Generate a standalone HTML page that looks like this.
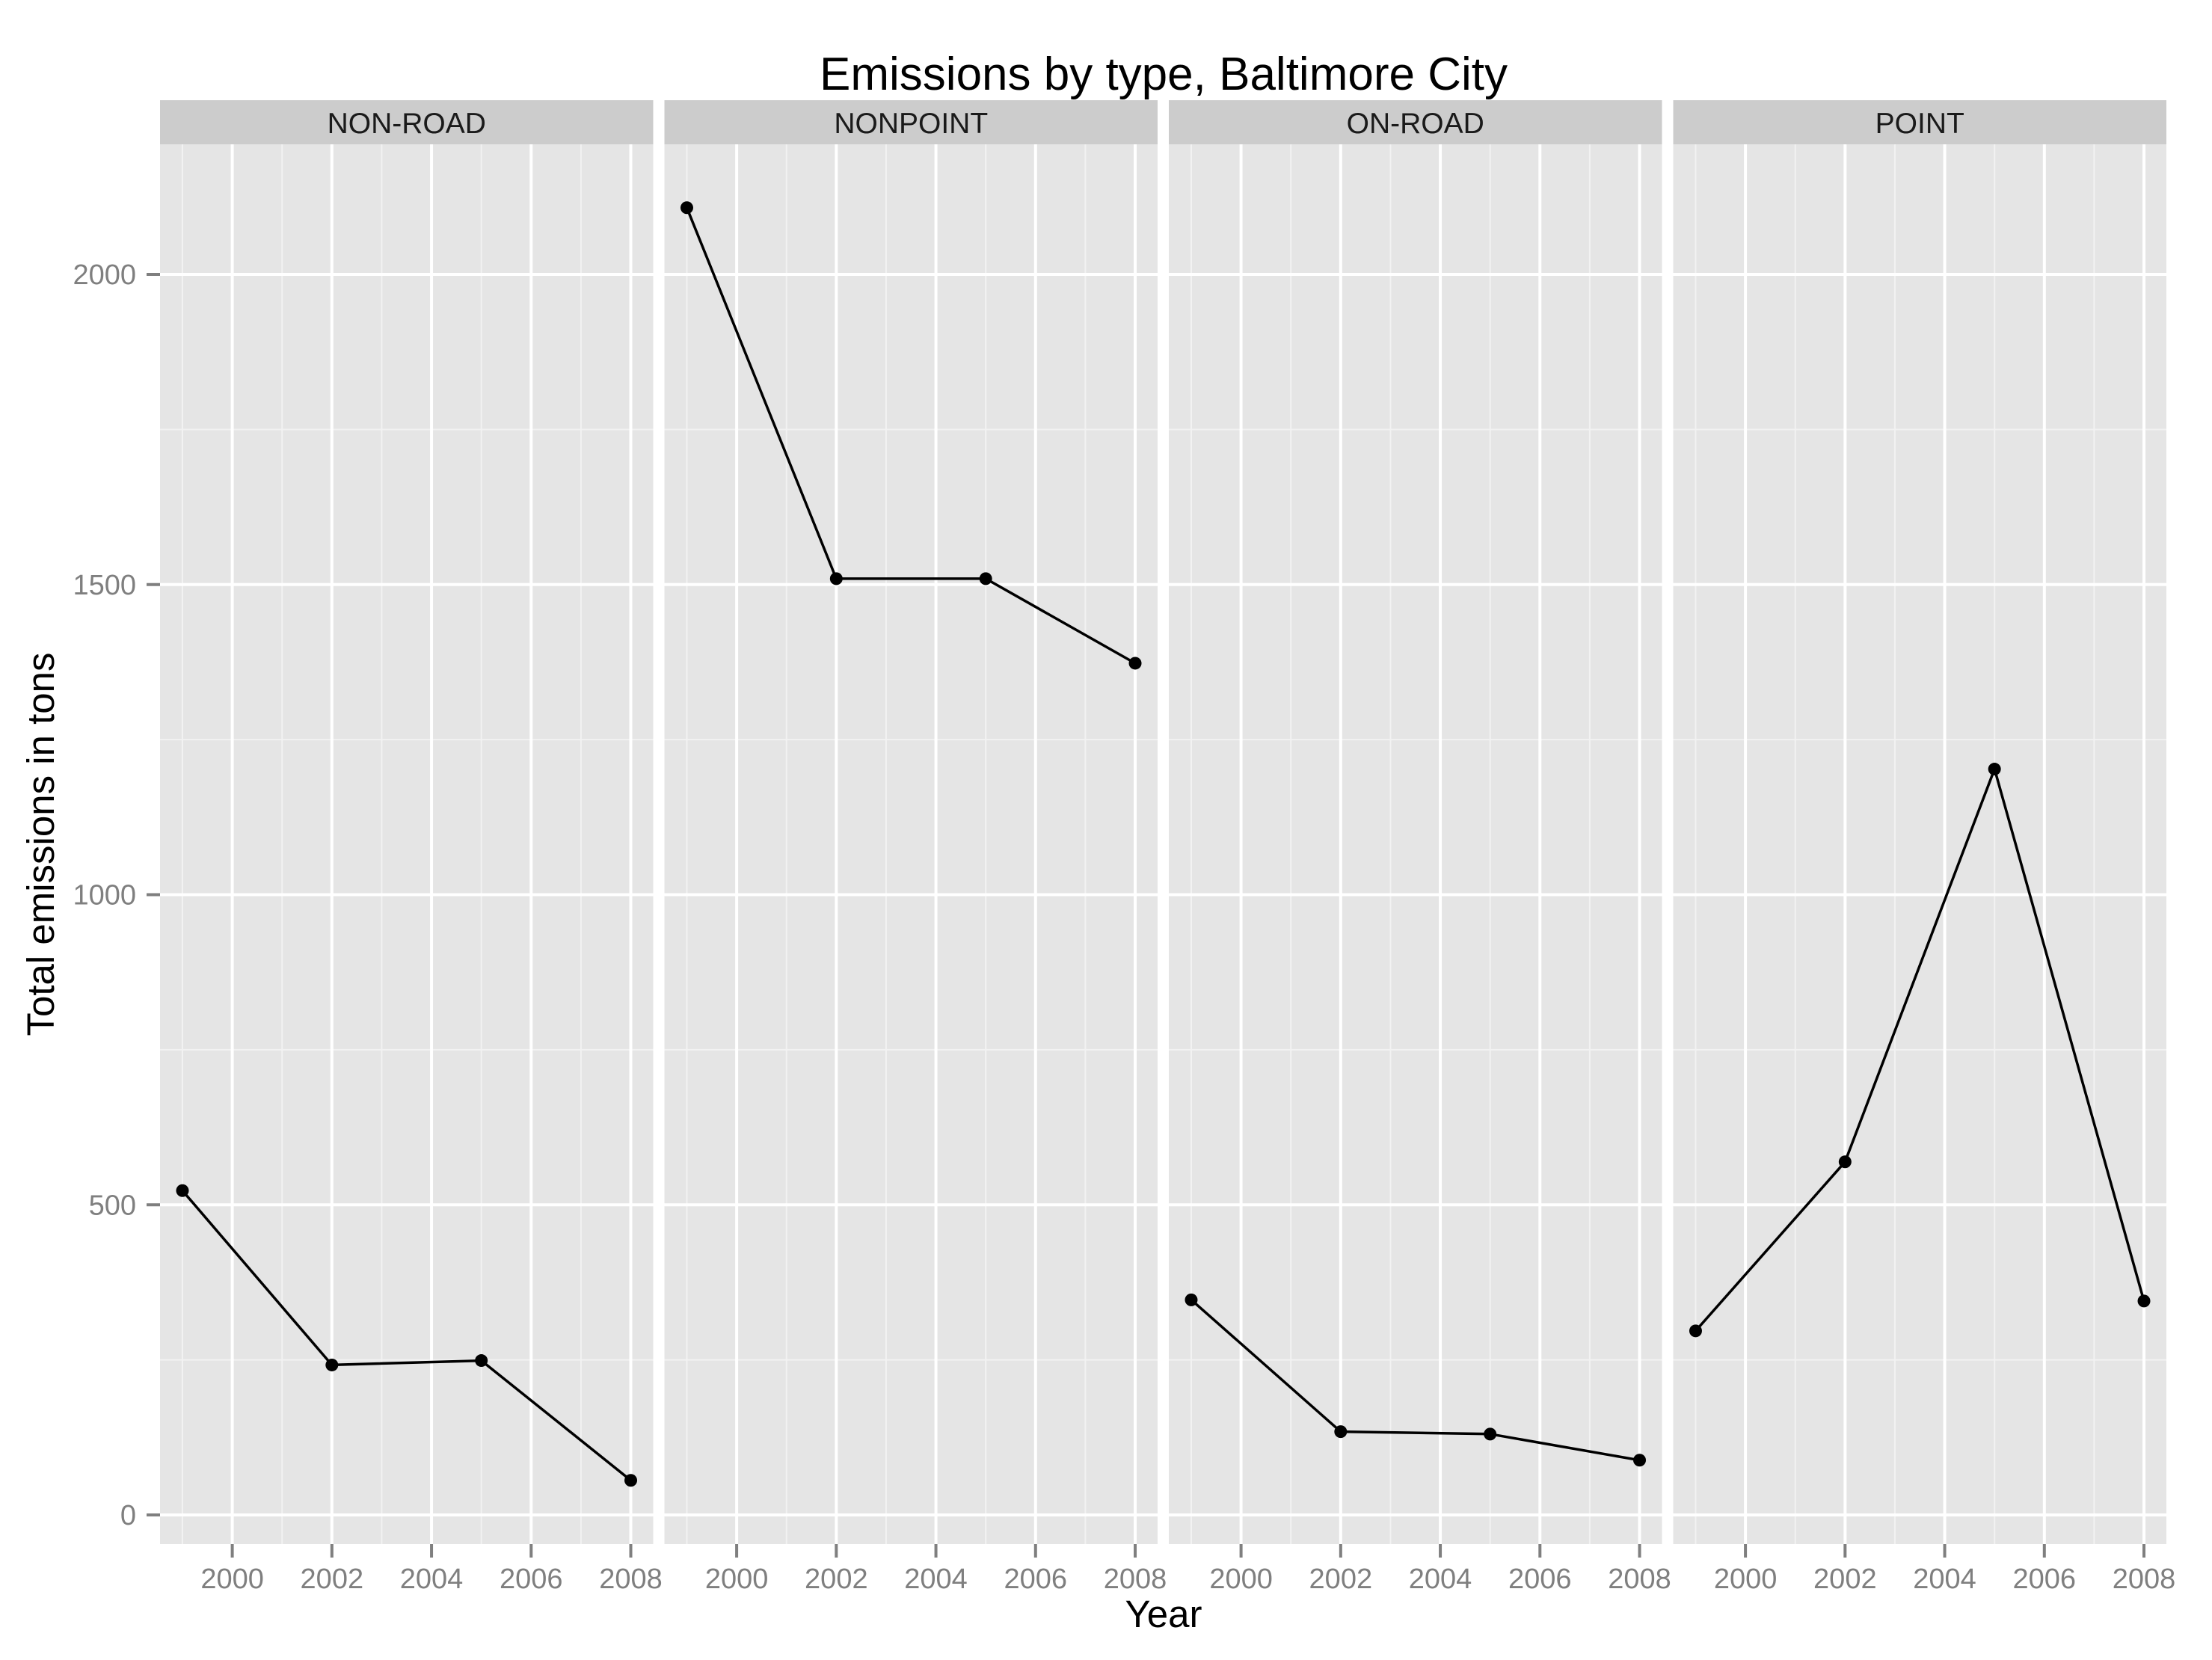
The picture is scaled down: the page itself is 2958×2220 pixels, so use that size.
<!DOCTYPE html>
<html><head><meta charset="utf-8"><style>
html,body{margin:0;padding:0;background:#fff;}
svg{display:block;font-family:"Liberation Sans",Arial,sans-serif;}
</style></head><body>
<svg id="chart" width="2958" height="2220" viewBox="0 0 2958 2220" xmlns="http://www.w3.org/2000/svg">
<text x="1556" y="120" text-anchor="middle" font-size="62" fill="#000">Emissions by type, Baltimore City</text>
<text x="1556" y="2176" text-anchor="middle" font-size="51" fill="#000">Year</text>
<text transform="translate(72,1129) rotate(-90)" text-anchor="middle" font-size="51" fill="#000">Total emissions in tons</text>
<g id="plot"></g>
</svg>
<script>
const panels = ["NON-ROAD","NONPOINT","ON-ROAD","POINT"];
const years = [1999, 2002, 2005, 2008];
const nonRoad = [522.9, 241.8, 248.9, 55.8];
const nonPoint = [2107.6, 1509.5, 1509.5, 1373.2];
const onRoad = [346.8, 134.3, 130.4, 88.3];
const pointSrc = [296.8, 569.3, 1202.5, 345.0];
const xTicks = [2000, 2002, 2004, 2006, 2008];
const yTicks = [0, 500, 1000, 1500, 2000];

const series = [nonRoad, nonPoint, onRoad, pointSrc];
const NS = "http://www.w3.org/2000/svg";
const plotG = document.getElementById("plot");
const panelLeft0 = 214, panelW = 659.5, panelGap = 15, pTop = 193, pBottom = 2065;
const stripTop = 134;
const xMin = 1998.55, xMax = 2008.45;
const yMin = -47.0, yMax = 2209.8;
function X(i, v){ return panelLeft0 + i*(panelW+panelGap) + (v - xMin)/(xMax - xMin)*panelW; }
function Y(v){ return pBottom - (v - yMin)/(yMax - yMin)*(pBottom - pTop); }
function mk(tag, attrs, parent){ const e = document.createElementNS(NS, tag); for (const k in attrs) e.setAttribute(k, attrs[k]); (parent||plotG).appendChild(e); return e; }

yTicks.forEach(t => {
  const tx = mk("text", {x: 182, y: Y(t)+13, "text-anchor":"end", "font-size":38, fill:"#7f7f7f"});
  
  
  tx.textContent = t;
  const tk = mk("line", {x1:196, x2:214, y1:Y(t), y2:Y(t), stroke:"#7f7f7f", "stroke-width":4});
  
  
});

panels.forEach((name, i) => {
  const L = panelLeft0 + i*(panelW+panelGap);
  const pg = mk("g", {});
  
  
  const strip = mk("rect", {x:L, y:stripTop, width:panelW, height:pTop-stripTop, fill:"#cccccc"}, pg);
  
  
  const st = mk("text", {x:L+panelW/2, y:178, "text-anchor":"middle", "font-size":39, fill:"#1a1a1a"}, pg);
  
  
  st.textContent = name;
  const bg = mk("rect", {x:L, y:pTop, width:panelW, height:pBottom-pTop, fill:"#e5e5e5"}, pg);
  
  
  for (let yr = 1999; yr <= 2008; yr += 2) {
    const m = mk("line", {x1:X(i,yr), x2:X(i,yr), y1:pTop, y2:pBottom, stroke:"#f2f2f2", "stroke-width":2}, pg);
    
    
  }
  for (let v = 250; v < 2200; v += 500) {
    const m = mk("line", {x1:L, x2:L+panelW, y1:Y(v), y2:Y(v), stroke:"#f2f2f2", "stroke-width":2}, pg);
    
    
  }
  yTicks.forEach(t => {
    const m = mk("line", {x1:L, x2:L+panelW, y1:Y(t), y2:Y(t), stroke:"#ffffff", "stroke-width":4}, pg);
    
    
  });
  xTicks.forEach(t => {
    const m = mk("line", {x1:X(i,t), x2:X(i,t), y1:pTop, y2:pBottom, stroke:"#ffffff", "stroke-width":4}, pg);
    
    
    const tk = mk("line", {x1:X(i,t), x2:X(i,t), y1:pBottom, y2:pBottom+18, stroke:"#7f7f7f", "stroke-width":4}, pg);
    
    
    const tl = mk("text", {x:X(i,t), y:2124, "text-anchor":"middle", "font-size":38, fill:"#7f7f7f"}, pg);
    
    
    tl.textContent = t;
  });
  const vals = series[i];
  const pts = years.map((yr, k) => X(i, yr).toFixed(1) + "," + Y(vals[k]).toFixed(1)).join(" ");
  const line = mk("polyline", {points: pts, fill:"none", stroke:"#000", "stroke-width":3.5, "stroke-linejoin":"round"}, pg);
  
  
  years.forEach((yr, k) => {
    const c = mk("circle", {cx:X(i,yr), cy:Y(vals[k]), r:8.5, fill:"#000"}, pg);
    
    
  });
});
</script>
</body></html>
